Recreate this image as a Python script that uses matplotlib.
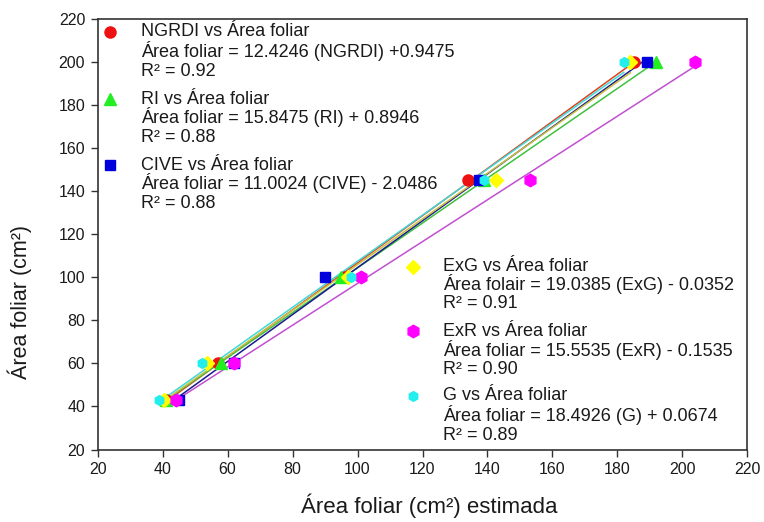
import numpy as np
import matplotlib
matplotlib.use("Agg")
import matplotlib.pyplot as plt

plt.rcParams['font.family'] = ['Liberation Sans', 'DejaVu Sans']

# Measured leaf area (y) shared by all indices
area_real = [43, 60, 100, 145, 200]

# Estimated leaf area per index (x)
x_ngrdi = [41, 57, 96, 134, 185]
x_ri = [41, 58, 95, 139, 192]
x_cive = [45, 62, 90, 137.5, 189]
x_exg = [40.5, 53.5, 97, 142.5, 184]
x_exr = [44, 62, 101, 153, 204]
x_g = [39, 52, 98, 139, 182]

names = ["NGRDI", "RI", "CIVE", "ExG", "ExR", "G"]
series_x = [x_ngrdi, x_ri, x_cive, x_exg, x_exr, x_g]
markers = ["o", "^", "s", "D", "h", "h"]
msizes = [8, 8, 7.5, 7, 9, 7]
mcolors = ["#ee1111", "#22ee22", "#0000dd", "#ffff00", "#ff00ff", "#22eeee"]
lcolors = ["#e04020", "#40c040", "#1a1a90", "#c8c040", "#c050d0", "#40d8d8"]

titles = ["NGRDI vs Área foliar", "RI vs Área foliar", "CIVE vs Área foliar",
          "ExG vs Área foliar", "ExR vs Área foliar", "G vs Área foliar"]
equations = ["Área foliar = 12.4246 (NGRDI) +0.9475",
             "Área foliar = 15.8475 (RI) + 0.8946",
             "Área foliar = 11.0024 (CIVE) - 2.0486",
             "Área folair = 19.0385 (ExG) - 0.0352",
             "Área foliar = 15.5535 (ExR) - 0.1535",
             "Área foliar = 18.4926 (G) + 0.0674"]
r2_labels = ["R² = 0.92", "R² = 0.88", "R² = 0.88", "R² = 0.91", "R² = 0.90", "R² = 0.89"]

fig = plt.figure(figsize=(7.64, 5.22), dpi=100)
L, R, T, B = 97.7, 747.3, 19.0, 449.5
W, H = 764, 522
ax = fig.add_axes([L / W, 1 - B / H, (R - L) / W, (B - T) / H])

y = np.array(area_real, dtype=float)
# regression lines
for xs, lc in zip(series_x, lcolors):
    xs = np.array(xs, dtype=float)
    m, c = np.polyfit(xs, y, 1)
    xx = np.array([xs.min(), xs.max()])
    ax.plot(xx, m * xx + c, color=lc, lw=1.1, zorder=2)

for xs, mk, ms, mc in zip(series_x, markers, msizes, mcolors):
    ax.plot(xs, y, linestyle="none", marker=mk, ms=ms, color=mc, mec=mc, zorder=3)

ax.set_xlim(20, 220)
ax.set_ylim(20, 220)
ax.set_xticks(np.arange(20, 221, 20))
ax.set_yticks(np.arange(20, 221, 20))
ax.tick_params(direction="out", length=5, width=1, labelsize=11.5, colors="#333333",
               labelcolor="#1a1a1a", pad=4)
for s in ax.spines.values():
    s.set_color("#333333")
    s.set_linewidth(1.2)

fig.text(429 / W, 1 - 506 / H, "Área foliar (cm²) estimada", ha="center", va="center",
         fontsize=16, color="#1a1a1a")
fig.text(20 / W, 1 - 302 / H, "Área foliar (cm²)", ha="center", va="center",
         rotation=90, fontsize=15.5, color="#1a1a1a")

def fx(px):
    return (px - L) / (R - L)

def fy(py):
    return (B - py) / (B - T)

# legend block positions (pixel centres of each line)
blocks = [
    (110, 141, [32, 51, 72]),
    (110, 141, [99, 117, 138]),
    (110, 141, [165, 183, 204]),
    (413, 443, [266.5, 284, 304]),
    (413, 443, [331, 350, 370]),
    (413, 443, [396, 415, 435]),
]
for i, (mx, tx, ys) in enumerate(blocks):
    ax.plot([fx(mx)], [fy(ys[0])], transform=ax.transAxes, marker=markers[i],
            ms=msizes[i], color=mcolors[i], linestyle="none", clip_on=False, zorder=4)
    for txt, yy in zip([titles[i], equations[i], r2_labels[i]], ys):
        ax.text(fx(tx), fy(yy), txt, transform=ax.transAxes, ha="left", va="center",
                fontsize=13, color="#1a1a1a")

fig.savefig("out.png", dpi=100)
